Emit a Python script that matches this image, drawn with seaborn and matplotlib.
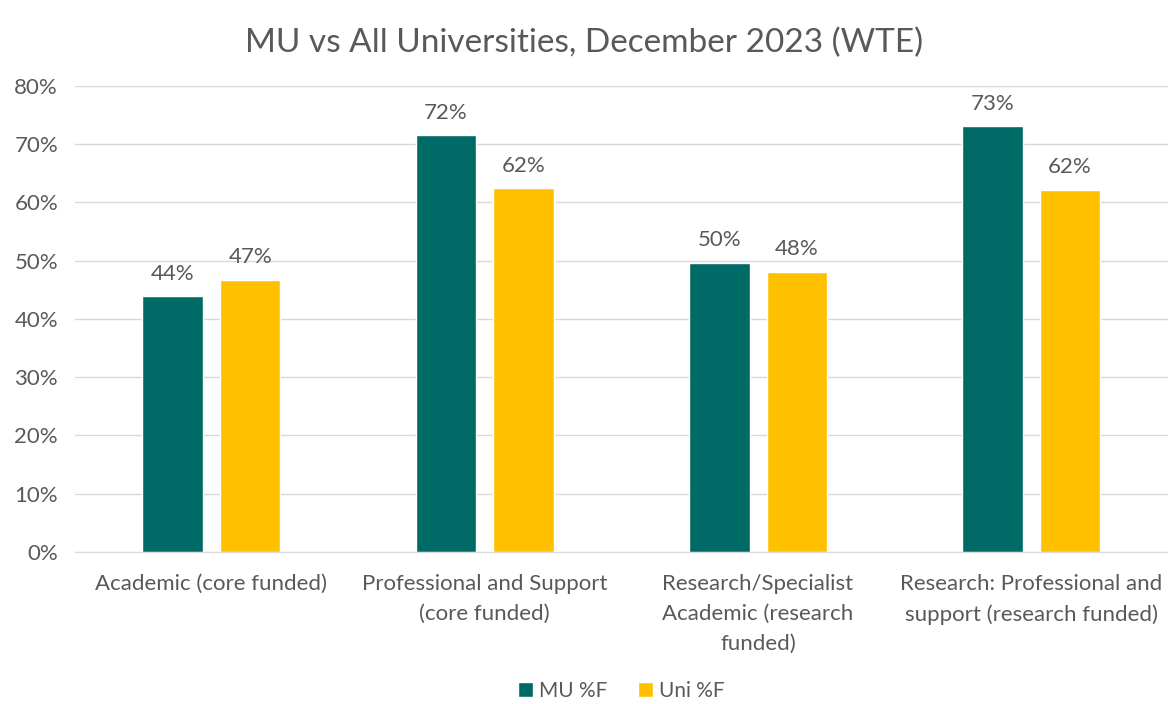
import pandas as pd
import seaborn as sns
import matplotlib.pyplot as plt
from matplotlib.ticker import PercentFormatter

categories = ["Academic (core funded)",
              "Professional and Support\n(core funded)",
              "Research/Specialist\nAcademic (research\nfunded)",
              "Research: Professional and\nsupport (research funded)"]
mu_pct = [43.9, 71.5, 49.6, 73.1]
uni_pct = [46.7, 62.4, 48.1, 62.2]
mu_labels = ["44%", "72%", "50%", "73%"]
uni_labels = ["47%", "62%", "48%", "62%"]
series = ["MU %F", "Uni %F"]

df = pd.DataFrame({
    "cat": categories * 2,
    "val": mu_pct + uni_pct,
    "series": [series[0]] * 4 + [series[1]] * 4,
})

sns.set_style("white")
plt.rcParams['font.family'] = ['Lato', 'DejaVu Sans']
grey = "#595959"

fig = plt.figure(figsize=(11.68, 7.04), dpi=100)
ax = fig.add_axes([0.064, 0.216, 0.936, 0.662])
sns.barplot(data=df, x="cat", y="val", hue="series", order=categories,
            palette=["#006B66", "#FFC000"], saturation=1, width=0.567, gap=0.22, ax=ax)

for cont, labs in zip(ax.containers, [mu_labels, uni_labels]):
    ax.bar_label(cont, labels=labs, padding=9, fontsize=16, color=grey)

ax.set_ylim(0, 80)
ax.set_xlim(-0.5, 3.5)
ax.set_yticks(range(0, 81, 10))
ax.yaxis.set_major_formatter(PercentFormatter(decimals=0))
ax.grid(axis="y", color="#D9D9D9", linewidth=1)
ax.set_axisbelow(True)
for s in ["top", "right", "left"]:
    ax.spines[s].set_visible(False)
ax.spines["bottom"].set_color("#D9D9D9")
ax.tick_params(axis="both", length=0, labelsize=16, labelcolor=grey)
ax.tick_params(axis="y", pad=12)
ax.tick_params(axis="x", pad=16)
ax.set_xlabel("")
ax.set_ylabel("")
fig.suptitle("MU vs All Universities, December 2023 (WTE)", y=0.96,
             fontsize=24, color=grey)
ax.legend(loc="lower center", bbox_to_anchor=(0.5, -0.36), ncol=2, frameon=False,
          fontsize=15, labelcolor=grey, handlelength=0.7, handleheight=0.7,
          handletextpad=0.3, columnspacing=1.5)

# line spacing of the multi-line category labels
fig.canvas.draw()
for t in ax.get_xticklabels():
    t.set_linespacing(1.62)

plt.savefig("out.png", dpi=100)
